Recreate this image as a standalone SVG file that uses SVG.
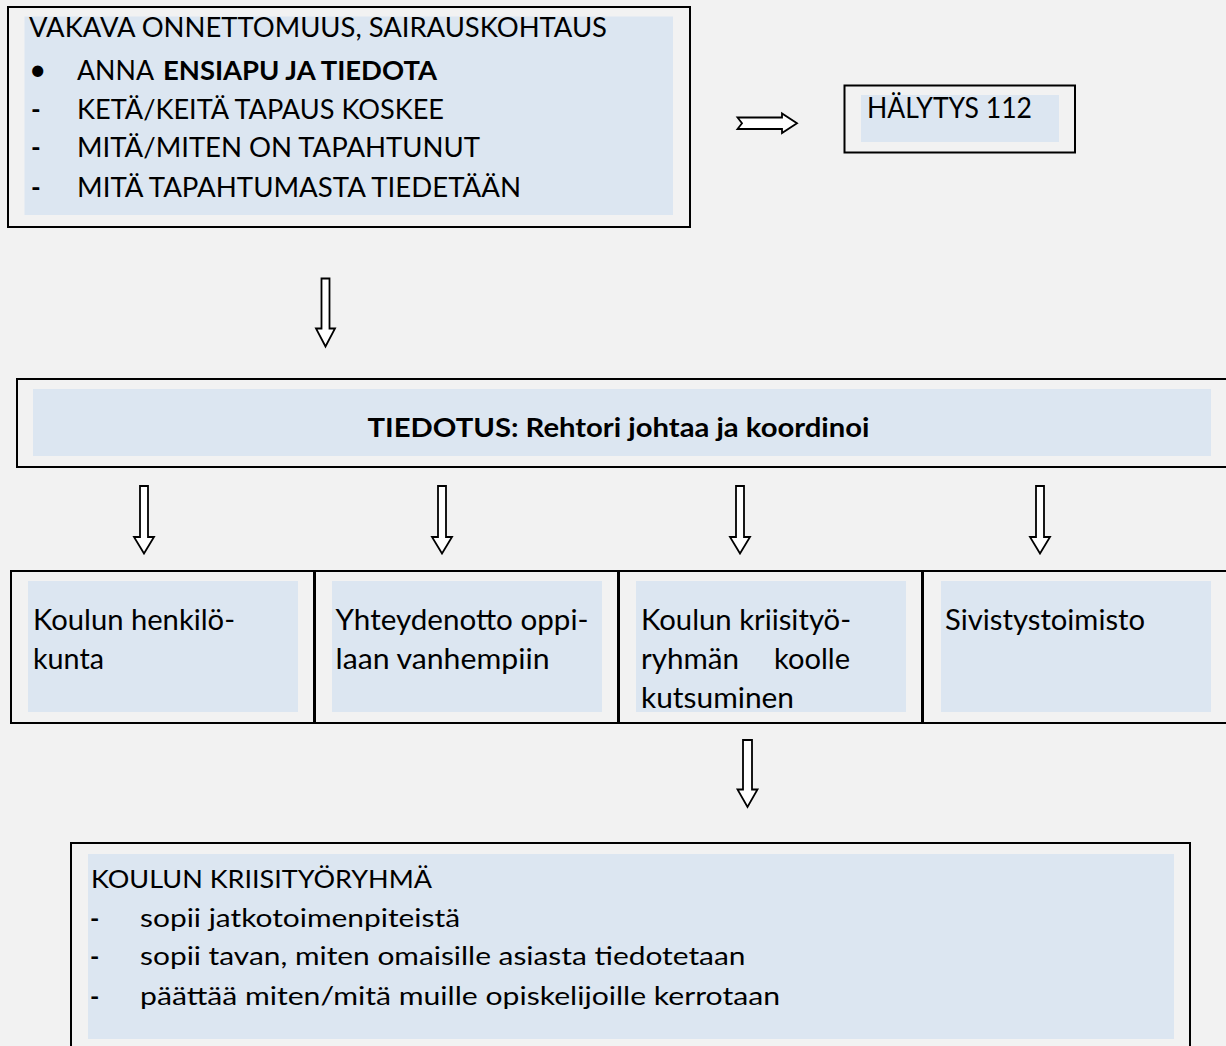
<svg xmlns="http://www.w3.org/2000/svg" width="1226" height="1046" viewBox="0 0 1226 1046">
<style>
.bg{fill:#f2f2f2}
.box{fill:none;stroke:#000;stroke-width:2}
.in{fill:#dce6f1}
.t{font-family:Lato,"Open Sans","Liberation Sans",sans-serif;fill:#000}
.s1{font-size:26px}
.s2{font-size:28px}
.s3{font-size:25px}
.b{font-weight:bold}
.arr{fill:#fff;stroke:#000;stroke-width:1.8;stroke-linejoin:miter}
</style>
<rect class="bg" x="0" y="0" width="1226" height="1046"/>

<g id="node-onnettomuus">
  <rect class="in" x="24.5" y="16.5" width="648.5" height="198.5"/>
  <rect class="box" x="8" y="7" width="682" height="220"/>
  <text class="t s1" x="29" y="37.3" textLength="578" lengthAdjust="spacingAndGlyphs">VAKAVA ONNETTOMUUS, SAIRAUSKOHTAUS</text>
  <text class="t s1" x="29" y="80" style="font-size:30px">•</text>
  <text class="t s1" y="80"><tspan x="77" textLength="77" lengthAdjust="spacingAndGlyphs">ANNA</tspan><tspan class="b" x="163" textLength="274" lengthAdjust="spacingAndGlyphs">ENSIAPU JA TIEDOTA</tspan></text>
  <text class="t s1 b" x="31" y="119">-</text>
  <text class="t s1" x="77" y="119" textLength="367" lengthAdjust="spacingAndGlyphs">KETÄ/KEITÄ TAPAUS KOSKEE</text>
  <text class="t s1 b" x="31" y="157.3">-</text>
  <text class="t s1" x="77" y="157.3" textLength="403" lengthAdjust="spacingAndGlyphs">MITÄ/MITEN ON TAPAHTUNUT</text>
  <text class="t s1 b" x="31" y="197.3">-</text>
  <text class="t s1" x="77" y="197.3" textLength="444" lengthAdjust="spacingAndGlyphs">MITÄ TAPAHTUMASTA TIEDETÄÄN</text>
</g>

<g id="node-halytys">
  <rect class="in" x="861" y="95" width="198" height="47"/>
  <rect class="box" x="844.5" y="85.5" width="230.5" height="67"/>
  <text class="t s2" x="867" y="118" textLength="165" lengthAdjust="spacingAndGlyphs">HÄLYTYS 112</text>
</g>

<g id="node-tiedotus">
  <rect class="in" x="33" y="389" width="1178" height="67"/>
  <rect class="box" x="17" y="379" width="1230" height="88"/>
  <text class="t b" style="font-size:26.5px" x="367.5" y="437.3" textLength="502" lengthAdjust="spacingAndGlyphs">TIEDOTUS: Rehtori johtaa ja koordinoi</text>
</g>

<g id="node-henkilokunta">
  <rect class="in" x="28" y="581" width="270" height="131"/>
  <rect class="box" x="11" y="571" width="303" height="152"/>
  <text class="t s2" x="33" y="630" textLength="202" lengthAdjust="spacingAndGlyphs">Koulun henkilö-</text>
  <text class="t s2" x="33" y="669" textLength="71" lengthAdjust="spacingAndGlyphs">kunta</text>
</g>

<g id="node-vanhemmat">
  <rect class="in" x="332" y="581" width="270" height="131"/>
  <rect class="box" x="315" y="571" width="303" height="152"/>
  <text class="t s2" x="335.5" y="630" textLength="253" lengthAdjust="spacingAndGlyphs">Yhteydenotto oppi-</text>
  <text class="t s2" x="335.5" y="669" textLength="214" lengthAdjust="spacingAndGlyphs">laan vanhempiin</text>
</g>

<g id="node-kriisiryhma-kokoon">
  <rect class="in" x="636" y="581" width="270" height="131"/>
  <rect class="box" x="619" y="571" width="303" height="152"/>
  <text class="t s2" x="641" y="630" textLength="210" lengthAdjust="spacingAndGlyphs">Koulun kriisityö-</text>
  <text class="t s2" y="669"><tspan x="641" textLength="98" lengthAdjust="spacingAndGlyphs">ryhmän</tspan><tspan x="774" textLength="76" lengthAdjust="spacingAndGlyphs">koolle</tspan></text>
  <text class="t s2" x="641" y="707.7" textLength="153" lengthAdjust="spacingAndGlyphs">kutsuminen</text>
</g>

<g id="node-sivistystoimisto">
  <rect class="in" x="941" y="581" width="270" height="131"/>
  <rect class="box" x="923" y="571" width="320" height="152"/>
  <text class="t s2" x="945" y="630" textLength="200" lengthAdjust="spacingAndGlyphs">Sivistystoimisto</text>
</g>

<g id="node-kriisityoryhma">
  <rect class="in" x="88" y="854" width="1086" height="185"/>
  <rect class="box" x="71" y="843" width="1119" height="220"/>
  <text class="t s3" x="91" y="888.3" textLength="341" lengthAdjust="spacingAndGlyphs">KOULUN KRIISITYÖRYHMÄ</text>
  <text class="t s3 b" x="90" y="926.5">-</text>
  <text class="t s3" x="140" y="926.5" textLength="320" lengthAdjust="spacingAndGlyphs">sopii jatkotoimenpiteistä</text>
  <text class="t s3 b" x="90" y="965">-</text>
  <text class="t s3" x="140" y="965" textLength="605.5" lengthAdjust="spacingAndGlyphs">sopii tavan, miten omaisille asiasta tiedotetaan</text>
  <text class="t s3 b" x="90" y="1004.5">-</text>
  <text class="t s3" x="140" y="1004.5" textLength="640" lengthAdjust="spacingAndGlyphs">päättää miten/mitä muille opiskelijoille kerrotaan</text>
</g>

<g id="connectors">
  <path class="arr" d="M737.5,117.5 H782 V113.5 L797,123.3 L782,133 V129 H737.5 L742,123.3 Z"/>
  <path class="arr" d="M321.5,278.5 H329.5 V328.5 H335 L325.5,346.5 L316,328.5 H321.5 Z"/>
  <path class="arr" d="M140,486 H148 V537 H154 L144,553.5 L134,537 H140 Z"/>
  <path class="arr" d="M438,486 H446 V537 H452 L442,553.5 L432,537 H438 Z"/>
  <path class="arr" d="M736,486 H744 V537 H750 L740,553.5 L730,537 H736 Z"/>
  <path class="arr" d="M1036,486 H1044 V537 H1050 L1040,553.5 L1030,537 H1036 Z"/>
  <path class="arr" d="M743,740 H752 V789.5 H757.5 L747.5,807 L737.5,789.5 H743 Z"/>
</g>
</svg>
